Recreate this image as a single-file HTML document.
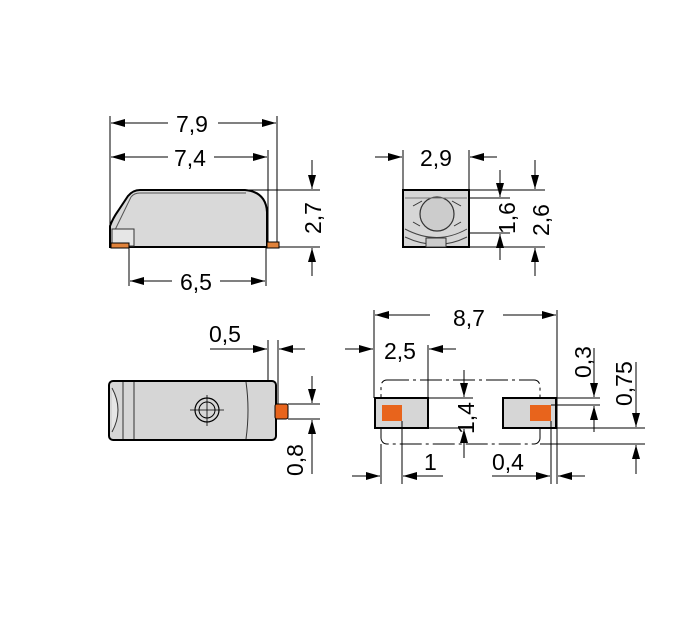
<!DOCTYPE html>
<html><head><meta charset="utf-8"><style>
html,body{margin:0;padding:0;background:#fff}
svg{display:block}
text{font-family:"Liberation Sans",Arial,sans-serif;font-size:23px;fill:#000}
</style></head><body>
<svg width="697" height="631" viewBox="0 0 697 631" xmlns="http://www.w3.org/2000/svg">
<defs>
<marker id="a" markerWidth="14" markerHeight="8" refX="14" refY="4" orient="auto" markerUnits="userSpaceOnUse">
<path d="M0,0 L14,4 L0,8 z" fill="#000"/></marker>
</defs>
<g stroke="#000" stroke-width="1" fill="none">
<line x1="110" y1="116" x2="110" y2="240"/>
<line x1="277" y1="116" x2="277" y2="242"/>
<line x1="268" y1="150" x2="268" y2="242"/>
<line x1="129" y1="248" x2="129" y2="286"/>
<line x1="266" y1="248" x2="266" y2="286"/>
<line x1="168" y1="123" x2="111" y2="123" marker-end="url(#a)"/>
<line x1="218" y1="123" x2="276" y2="123" marker-end="url(#a)"/>
<line x1="168" y1="157" x2="111" y2="157" marker-end="url(#a)"/>
<line x1="214" y1="157" x2="267" y2="157" marker-end="url(#a)"/>
<line x1="172" y1="281" x2="130" y2="281" marker-end="url(#a)"/>
<line x1="220" y1="281" x2="265" y2="281" marker-end="url(#a)"/>
<line x1="245" y1="190" x2="320" y2="190"/>
<line x1="270" y1="247" x2="320" y2="247"/>
<line x1="312" y1="160" x2="312" y2="189" marker-end="url(#a)"/>
<line x1="312" y1="276" x2="312" y2="248" marker-end="url(#a)"/>
</g>
<path d="M110,247 L110,226 Q113,218 118,211 L128,196 Q133,190 140,190 L245,190 Q266,192 267,212 L267,247 Z" fill="#d9d9d9" stroke="#000" stroke-width="2"/>
<path d="M114,232 L131,197 Q134,193 140,193 L246,193" fill="none" stroke="#555" stroke-width="1"/>
<rect x="112" y="229" width="22" height="17" fill="#e6e6e6" stroke="#333" stroke-width="1"/>
<rect x="111" y="243" width="18" height="5" fill="#e0823a" stroke="#000" stroke-width="1"/>
<rect x="267" y="242" width="12" height="6" fill="#e0823a" stroke="#000" stroke-width="1"/>
<text x="176" y="132">7,9</text>
<text x="174" y="166">7,4</text>
<text x="180" y="290">6,5</text>
<text transform="translate(321,234) rotate(-90)">2,7</text>

<rect x="403" y="190" width="66" height="57" fill="#d6d6d6" stroke="#000" stroke-width="2"/>
<path d="M405,229 Q437,246 467,229" fill="none" stroke="#444"/>
<path d="M405,237 Q437,252 467,237" fill="none" stroke="#444"/>
<rect x="426" y="238" width="20" height="9" fill="#ccc" stroke="#333"/>
<circle cx="437" cy="214" r="17" fill="#ccc" stroke="#333" stroke-width="1.2"/>
<path d="M413,206 L422,201 M461,206 L452,201 M413,222 L420,226 M461,222 L454,226" stroke="#333"/>
<line x1="405" y1="198" x2="467" y2="198" stroke="#777"/>
<g stroke="#000" stroke-width="1" fill="none">
<line x1="403" y1="150" x2="403" y2="190"/>
<line x1="469" y1="150" x2="469" y2="190"/>
<line x1="375" y1="157" x2="402" y2="157" marker-end="url(#a)"/>
<line x1="497" y1="157" x2="470" y2="157" marker-end="url(#a)"/>
<line x1="469" y1="198" x2="510" y2="198"/>
<line x1="469" y1="233" x2="510" y2="233"/>
<line x1="500" y1="170" x2="500" y2="197" marker-end="url(#a)"/>
<line x1="500" y1="260" x2="500" y2="234" marker-end="url(#a)"/>
<line x1="469" y1="190" x2="545" y2="190"/>
<line x1="469" y1="247" x2="545" y2="247"/>
<line x1="535" y1="160" x2="535" y2="189" marker-end="url(#a)"/>
<line x1="535" y1="276" x2="535" y2="248" marker-end="url(#a)"/>
</g>
<text x="420" y="166">2,9</text>
<text transform="translate(515,234) rotate(-90)">1,6</text>
<text transform="translate(549,236) rotate(-90)">2,6</text>

<rect x="109" y="381" width="167" height="59" rx="4" fill="#d6d6d6" stroke="#000" stroke-width="2"/>
<line x1="123" y1="382" x2="123" y2="439" stroke="#333"/>
<line x1="134" y1="382" x2="134" y2="439" stroke="#333"/>
<path d="M112,388 Q124,410 112,432" fill="#e6e6e6" stroke="#333"/>
<path d="M246,382 Q250,410 246,439" fill="none" stroke="#333"/>
<circle cx="207" cy="410" r="12" fill="none" stroke="#000" stroke-width="1.2"/>
<circle cx="207" cy="410" r="8" fill="none" stroke="#000" stroke-width="1"/>
<path d="M190,410 H224 M207,395 V426" stroke="#000" stroke-width="0.8"/>
<rect x="275" y="404" width="13" height="15" rx="2" fill="#e8641c" stroke="#000" stroke-width="1"/>
<g stroke="#000" stroke-width="1" fill="none">
<line x1="268" y1="340" x2="268" y2="381"/>
<line x1="278" y1="340" x2="278" y2="404"/>
<line x1="210" y1="349" x2="267" y2="349" marker-end="url(#a)"/>
<line x1="305" y1="349" x2="279" y2="349" marker-end="url(#a)"/>
<line x1="288" y1="404" x2="320" y2="404"/>
<line x1="288" y1="419" x2="320" y2="419"/>
<line x1="312" y1="376" x2="312" y2="403" marker-end="url(#a)"/>
<line x1="312" y1="474" x2="312" y2="420" marker-end="url(#a)"/>
</g>
<text x="209" y="342">0,5</text>
<text transform="translate(303,476) rotate(-90)">0,8</text>

<rect x="381" y="380" width="159" height="64" rx="6" fill="none" stroke="#000" stroke-width="1" stroke-dasharray="22,4,3,4"/>
<rect x="375" y="398" width="53" height="30" fill="#d6d6d6" stroke="#000" stroke-width="2"/>
<rect x="503" y="398" width="53" height="30" fill="#d6d6d6" stroke="#000" stroke-width="2"/>
<rect x="382" y="405" width="20" height="16" fill="#e8641c"/>
<rect x="530" y="405" width="21" height="16" fill="#e8641c"/>
<g stroke="#000" stroke-width="1" fill="none">
<line x1="374" y1="310" x2="374" y2="398"/>
<line x1="557" y1="310" x2="557" y2="484"/>
<line x1="430" y1="315" x2="375" y2="315" marker-end="url(#a)"/>
<line x1="503" y1="315" x2="556" y2="315" marker-end="url(#a)"/>
<line x1="428" y1="345" x2="428" y2="398"/>
<line x1="345" y1="349" x2="373" y2="349" marker-end="url(#a)"/>
<line x1="456" y1="349" x2="429" y2="349" marker-end="url(#a)"/>
<line x1="428" y1="398" x2="473" y2="398"/>
<line x1="428" y1="428" x2="473" y2="428"/>
<line x1="464" y1="370" x2="464" y2="397" marker-end="url(#a)"/>
<line x1="464" y1="458" x2="464" y2="429" marker-end="url(#a)"/>
<line x1="381" y1="444" x2="381" y2="484"/>
<line x1="402" y1="421" x2="402" y2="484"/>
<line x1="352" y1="476" x2="380" y2="476" marker-end="url(#a)"/>
<line x1="443" y1="476" x2="403" y2="476" marker-end="url(#a)"/>
<line x1="551" y1="421" x2="551" y2="484"/>
<line x1="492" y1="476" x2="550" y2="476" marker-end="url(#a)"/>
<line x1="585" y1="476" x2="558" y2="476" marker-end="url(#a)"/>
<line x1="551" y1="398" x2="600" y2="398"/>
<line x1="551" y1="405" x2="600" y2="405"/>
<line x1="594" y1="348" x2="594" y2="397" marker-end="url(#a)"/>
<line x1="594" y1="432" x2="594" y2="406" marker-end="url(#a)"/>
<line x1="540" y1="428" x2="645" y2="428"/>
<line x1="540" y1="444" x2="645" y2="444"/>
<line x1="636" y1="362" x2="636" y2="427" marker-end="url(#a)"/>
<line x1="636" y1="474" x2="636" y2="445" marker-end="url(#a)"/>
</g>
<text x="453" y="326">8,7</text>
<text x="384" y="359">2,5</text>
<text transform="translate(474,434) rotate(-90)">1,4</text>
<text x="424" y="470">1</text>
<text x="492" y="470">0,4</text>
<text transform="translate(591,378) rotate(-90)">0,3</text>
<text transform="translate(632,406) rotate(-90)">0,75</text>
</svg>
</body></html>
